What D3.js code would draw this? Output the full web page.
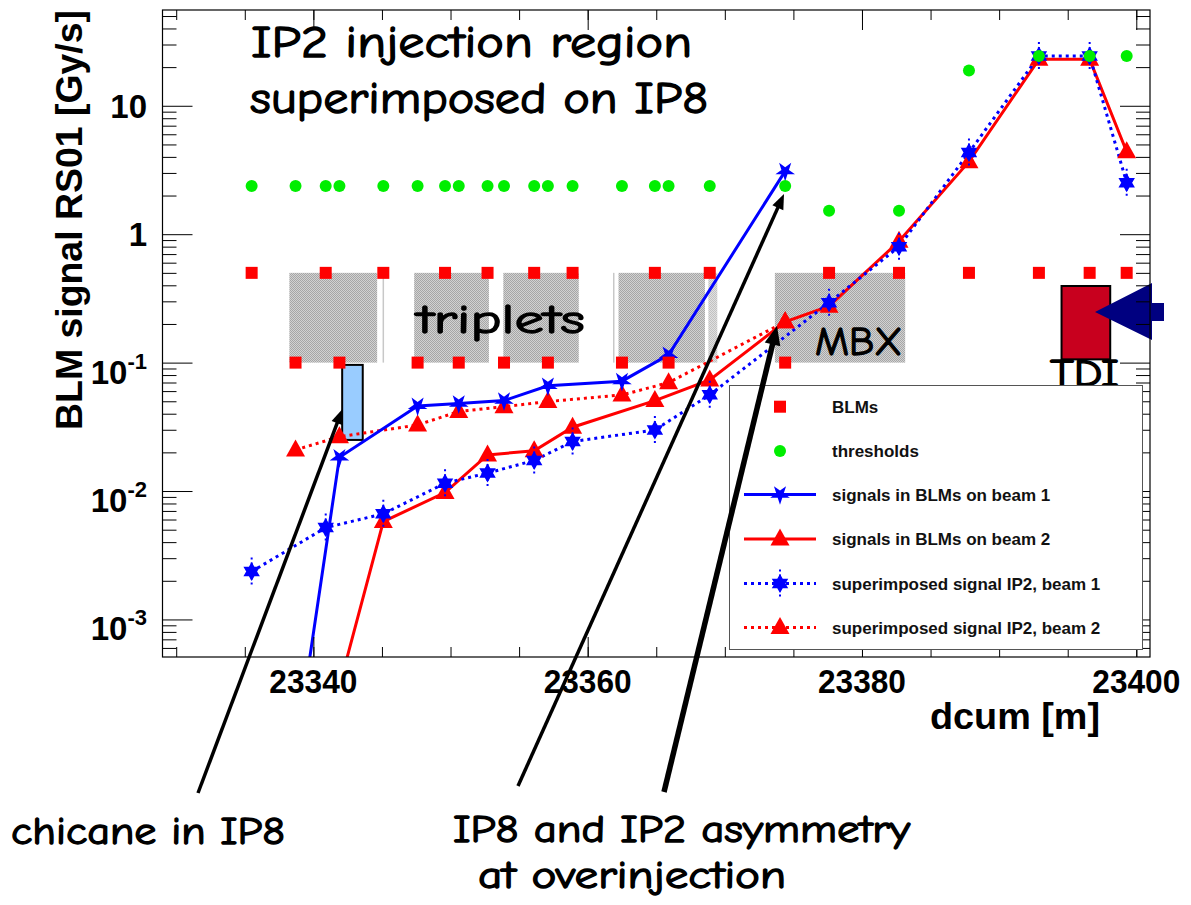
<!DOCTYPE html>
<html>
<head>
<meta charset="utf-8">
<script src="https://cdn.jsdelivr.net/npm/d3@7/dist/d3.min.js"></script>
<style>
  body { margin: 0; background: #ffffff; }
  svg { display: block; }
</style>
</head>
<body>
<svg id="chart" width="1191" height="905"></svg>
<script>
// ---- BLM positions along the ring (dcum, m) and the level at which each BLM is marked
const blmDcum = [23335.5, 23338.7, 23340.9, 23341.9, 23345.1, 23347.6, 23349.6, 23350.6,
                 23352.7, 23353.9, 23356.1, 23357.1, 23358.9, 23362.5, 23364.9, 23365.9,
                 23368.9, 23374.4, 23377.6, 23382.7, 23387.8, 23392.9, 23396.6, 23399.3];
const blmLevel = [0.5, 0.1, 0.5, 0.1, 0.5, 0.1, 0.5, 0.1,
                  0.5, 0.1, 0.5, 0.1, 0.5, 0.1, 0.5, 0.1,
                  0.5, 0.1, 0.5, 0.5, 0.5, 0.5, 0.5, 0.5];
// ---- dump thresholds per BLM (Gy/s)
const thresholdValue = [2.37, 2.37, 2.37, 2.37, 2.37, 2.37, 2.37, 2.37,
                        2.37, 2.37, 2.37, 2.37, 2.37, 2.37, 2.37, 2.37,
                        2.37, 2.37, 1.52, 1.52, 18.8, 24.4, 24.4, 24.4];

// ---- signals in BLMs on beam 1 (IP8)
const beam1Dcum  = [23338.7, 23341.9, 23347.6, 23350.6, 23353.9, 23357.1, 23362.5, 23365.9, 23374.4];
const beam1Value = [0.00009, 0.0183, 0.046, 0.048, 0.0506, 0.066, 0.0717, 0.115, 3.1];

// ---- signals in BLMs on beam 2 (IP8)
const beam2Dcum  = [23340.9, 23345.1, 23349.6, 23352.7, 23356.1, 23358.9, 23364.9, 23368.9,
                    23374.4, 23377.6, 23382.7, 23387.8, 23392.9, 23396.6, 23399.3];
const beam2Value = [0.00012, 0.00578, 0.00973, 0.0191, 0.0206, 0.0314, 0.0506, 0.0733,
                    0.208, 0.275, 0.88, 3.67, 23.0, 23.0, 4.39];

// ---- superimposed IP2 signal, beam 1
const ip2b1Dcum  = [23335.5, 23340.9, 23345.1, 23349.6, 23352.7, 23356.1, 23358.9, 23364.9,
                    23368.9, 23377.6, 23382.7, 23387.8, 23392.9, 23396.6, 23399.3];
const ip2b1Value = [0.00236, 0.00519, 0.00664, 0.0115, 0.0138, 0.0173, 0.0243, 0.0299,
                    0.0561, 0.293, 0.80, 4.32, 24.4, 24.4, 2.52];

// ---- superimposed IP2 signal, beam 2
const ip2b2Dcum  = [23338.7, 23341.9, 23347.6, 23350.6, 23353.9, 23357.1, 23362.5, 23365.9, 23374.4];
const ip2b2Value = [0.0209, 0.0265, 0.0327, 0.0416, 0.0454, 0.0497, 0.056, 0.0698, 0.208];

// ---- magnet elements (dcum start, dcum end), drawn between 0.1 and 0.5
const tripletStart = [23338.25, 23347.35, 23353.85, 23362.25, 23368.8];
const tripletEnd   = [23344.65, 23352.8, 23359.35, 23368.55, 23369.45];
const mbxRange = [23373.65, 23383.15];
const chicaneRange = [23342.1, 23343.6];
const chicaneLevels = [0.025, 0.096];
const tdiRange = [23394.55, 23398.1];
const tdiLevels = [0.106, 0.395];

// ---- axis ticks
const xMajorTicks = [23340, 23360, 23380, 23400];
const xMinorTicks = d3.range(23330, 23401, 5);
const yMajorTicks = [1e-3, 1e-2, 1e-1, 1, 10];
const yMajorLabels = [["10", "-3"], ["10", "-2"], ["10", "-1"], ["1", ""], ["10", ""]];

// ---- legend entries
const legendLabels = ["BLMs", "thresholds", "signals in BLMs on beam 1", "signals in BLMs on beam 2",
                      "superimposed signal IP2, beam 1", "superimposed signal IP2, beam 2"];

const svg = d3.select("#chart");
const frame = { left: 162.5, right: 1150, top: 10, bottom: 657 };

const x = d3.scaleLinear().domain([23329.0, 23401.0]).range([frame.left, frame.right]);
const y = d3.scaleLog().domain([5.1e-4, 55.7]).range([frame.bottom, frame.top]);

const BLUE = "#0000ff", RED = "#ff0000", GREEN = "#00ee00";
const comic = "'Comic Sans MS', 'Comic Neue', 'DejaVu Sans', sans-serif";
const helv = "'Liberation Sans', Arial, Helvetica, sans-serif";

svg.append("rect").attr("width", 1191).attr("height", 905).attr("fill", "#ffffff");

const defs = svg.append("defs");
// fine dithered grey used for the magnet blocks
const pat = defs.append("pattern").attr("id", "dither").attr("patternUnits", "userSpaceOnUse")
  .attr("width", 2).attr("height", 2);
pat.append("rect").attr("width", 2).attr("height", 2).attr("fill", "#d2d2d2");
pat.append("rect").attr("width", 1).attr("height", 1).attr("fill", "#a6a6a6");
pat.append("rect").attr("x", 1).attr("y", 1).attr("width", 1).attr("height", 1).attr("fill", "#a6a6a6");

defs.append("clipPath").attr("id", "plotClip").append("rect")
  .attr("x", frame.left).attr("y", frame.top)
  .attr("width", frame.right - frame.left).attr("height", frame.bottom - frame.top);

// hand-lettered style notes: slightly heavier strokes
function note(txt, px, py, size, len) {
  return svg.append("text").text(txt).attr("x", px).attr("y", py)
    .attr("font-family", comic).attr("font-size", size).attr("fill", "#000")
    .attr("stroke", "#000").attr("stroke-width", 1.3).attr("stroke-linejoin", "round")
    .attr("textLength", len).attr("lengthAdjust", "spacingAndGlyphs");
}

// ---- marker shapes
function hexagram(r) {
  const tri = a0 => d3.range(3).map(i => {
    const a = (a0 + i * 120) * Math.PI / 180;
    return [r * Math.cos(a), r * Math.sin(a)];
  });
  const p = t => "M" + t.map(q => q[0].toFixed(2) + "," + q[1].toFixed(2)).join("L") + "Z";
  return p(tri(-90)) + p(tri(90));
}
const trianglePath = "M0,-10.5L9.5,6.5L-9.5,6.5Z";
const downStarPath = d3.symbol().type(d3.symbolStar).size(120)();

function drawMarker(g, kind, cx, cy) {
  if (kind === "downStar") {
    g.append("path").attr("d", downStarPath)
      .attr("transform", `translate(${cx},${cy}) rotate(180)`).attr("fill", BLUE);
  } else if (kind === "hexagram") {
    g.append("line").attr("x1", cx).attr("x2", cx).attr("y1", cy - 14).attr("y2", cy + 15)
      .attr("stroke", BLUE).attr("stroke-width", 2).attr("stroke-dasharray", "2,3");
    g.append("path").attr("d", hexagram(9.5))
      .attr("transform", `translate(${cx},${cy})`).attr("fill", BLUE);
  } else if (kind === "triangle") {
    g.append("path").attr("d", trianglePath)
      .attr("transform", `translate(${cx},${cy})`).attr("fill", RED);
  } else if (kind === "square") {
    g.append("rect").attr("x", cx - 6).attr("y", cy - 6).attr("width", 12).attr("height", 12)
      .attr("fill", RED);
  } else if (kind === "circle") {
    g.append("circle").attr("cx", cx).attr("cy", cy).attr("r", 6).attr("fill", GREEN);
  }
}

// ---- magnet blocks
const blocks = svg.append("g");
tripletStart.forEach((s, i) => {
  blocks.append("rect")
    .attr("x", x(s)).attr("y", y(0.5))
    .attr("width", x(tripletEnd[i]) - x(s)).attr("height", y(0.1) - y(0.5))
    .attr("fill", "url(#dither)").attr("opacity", i === 4 ? 0.7 : 1);
});
blocks.append("rect")
  .attr("x", x(mbxRange[0])).attr("y", y(0.5))
  .attr("width", x(mbxRange[1]) - x(mbxRange[0])).attr("height", y(0.1) - y(0.5))
  .attr("fill", "url(#dither)");
[23345.1, 23361.9].forEach(d => {
  blocks.append("line").attr("x1", x(d)).attr("x2", x(d)).attr("y1", y(0.5)).attr("y2", y(0.1))
    .attr("stroke", "#c8c8c8").attr("stroke-width", 1.5);
});

// ---- block labels
note("triplets", 417, 333, 41, 168);
note("MBX", 815, 355, 41, 87);

// ---- chicane and TDI markers
svg.append("rect")
  .attr("x", x(chicaneRange[0])).attr("y", y(chicaneLevels[1]))
  .attr("width", x(chicaneRange[1]) - x(chicaneRange[0]))
  .attr("height", y(chicaneLevels[0]) - y(chicaneLevels[1]))
  .attr("fill", "#99ccff").attr("stroke", "#000").attr("stroke-width", 2);
svg.append("rect")
  .attr("x", x(tdiRange[0])).attr("y", y(tdiLevels[1]))
  .attr("width", x(tdiRange[1]) - x(tdiRange[0]))
  .attr("height", y(tdiLevels[0]) - y(tdiLevels[1]))
  .attr("fill", "#c8001e").attr("stroke", "#000").attr("stroke-width", 2);
note("TDI", 1050, 386, 38, 69);

// incoming beam arrow at the TDI
svg.append("path")
  .attr("d", "M1095,312 L1152,283 L1152,303 L1164,303 L1164,321 L1152,321 L1152,340 Z")
  .attr("fill", "#000080");

// ---- signal curves
const plot = svg.append("g").attr("clip-path", "url(#plotClip)");
const line = d3.line().x(d => x(d[0])).y(d => y(d[1]));
const zip = (a, b) => a.map((v, i) => [v, b[i]]);

const series = [
  { pts: zip(ip2b2Dcum, ip2b2Value), color: RED,  dash: "3,4", marker: "triangle" },
  { pts: zip(beam2Dcum, beam2Value), color: RED,  dash: null,  marker: "triangle" },
  { pts: zip(beam1Dcum, beam1Value), color: BLUE, dash: null,  marker: "downStar" },
  { pts: zip(ip2b1Dcum, ip2b1Value), color: BLUE, dash: "3,4", marker: "hexagram" }
];
series.forEach(s => {
  plot.append("path").attr("d", line(s.pts)).attr("fill", "none")
    .attr("stroke", s.color).attr("stroke-width", 3)
    .attr("stroke-dasharray", s.dash);
});
series.forEach(s => {
  s.pts.forEach(p => drawMarker(plot, s.marker, x(p[0]), y(p[1])));
});

// ---- BLM positions and thresholds
blmDcum.forEach((d, i) => drawMarker(plot, "square", x(d), y(blmLevel[i])));
blmDcum.forEach((d, i) => drawMarker(plot, "circle", x(d), y(thresholdValue[i])));

// ---- frame and axes
const axes = svg.append("g");
function styleAxis(g) {
  g.select(".domain").remove();
  g.selectAll(".tick line").attr("stroke", "#000").attr("stroke-width", 1);
  g.selectAll(".tick text").remove();
}
axes.append("g").attr("transform", `translate(0,${frame.bottom})`)
  .call(d3.axisBottom(x).tickValues(xMinorTicks).tickSize(-10)).call(styleAxis);
axes.append("g").attr("transform", `translate(0,${frame.bottom})`)
  .call(d3.axisBottom(x).tickValues(xMajorTicks).tickSize(-20)).call(styleAxis);
axes.append("g").attr("transform", `translate(0,${frame.top})`)
  .call(d3.axisTop(x).tickValues(xMinorTicks).tickSize(-10)).call(styleAxis);
axes.append("g").attr("transform", `translate(0,${frame.top})`)
  .call(d3.axisTop(x).tickValues(xMajorTicks).tickSize(-20)).call(styleAxis);

const yMinorTicks = [];
for (let e = -4; e <= 1; e++) {
  for (let k = 2; k <= 9; k++) {
    const v = k * Math.pow(10, e);
    if (v > y.domain()[0] && v < y.domain()[1]) yMinorTicks.push(v);
  }
}
axes.append("g").attr("transform", `translate(${frame.left},0)`)
  .call(d3.axisLeft(y).tickValues(yMinorTicks).tickSize(-14)).call(styleAxis);
axes.append("g").attr("transform", `translate(${frame.left},0)`)
  .call(d3.axisLeft(y).tickValues(yMajorTicks).tickSize(-30)).call(styleAxis);
axes.append("g").attr("transform", `translate(${frame.right},0)`)
  .call(d3.axisRight(y).tickValues(yMinorTicks).tickSize(-14)).call(styleAxis);
axes.append("g").attr("transform", `translate(${frame.right},0)`)
  .call(d3.axisRight(y).tickValues(yMajorTicks).tickSize(-30)).call(styleAxis);

axes.append("rect")
  .attr("x", frame.left).attr("y", frame.top)
  .attr("width", frame.right - frame.left).attr("height", frame.bottom - frame.top)
  .attr("fill", "none").attr("stroke", "#000").attr("stroke-width", 1.2);

// tick labels
xMajorTicks.forEach(v => {
  axes.append("text").text(String(v)).attr("x", x(v)).attr("y", 693)
    .attr("text-anchor", "middle").attr("font-family", helv).attr("font-weight", "bold")
    .attr("font-size", 33).attr("fill", "#000")
    .attr("textLength", 88).attr("lengthAdjust", "spacingAndGlyphs");
});
yMajorTicks.forEach((v, i) => {
  const [base, sup] = yMajorLabels[i];
  const t = axes.append("text").attr("text-anchor", "end")
    .attr("font-family", helv).attr("font-weight", "bold").attr("fill", "#000");
  if (sup) {
    t.attr("x", 147).attr("y", y(v) + 21);
    t.append("tspan").text(base).attr("font-size", 33);
    t.append("tspan").text(sup).attr("font-size", 22).attr("dy", -15);
  } else {
    t.attr("x", 147).attr("y", y(v) + 12).attr("font-size", 33).text(base);
  }
});

// axis titles
svg.append("text").text("BLM signal RS01 [Gy/s]")
  .attr("transform", "translate(82,220) rotate(-90)")
  .attr("text-anchor", "middle").attr("font-family", helv).attr("font-weight", "bold")
  .attr("font-size", 37).attr("fill", "#000")
  .attr("textLength", 420).attr("lengthAdjust", "spacingAndGlyphs");
svg.append("text").text("dcum [m]").attr("x", 1100).attr("y", 729)
  .attr("text-anchor", "end").attr("font-family", helv).attr("font-weight", "bold")
  .attr("font-size", 37).attr("fill", "#000")
  .attr("textLength", 170).attr("lengthAdjust", "spacingAndGlyphs");

// ---- title
note("IP2 injection region", 251, 57, 44, 441);
note("superimposed on IP8", 250, 113, 44, 458);

// ---- legend
const lg = svg.append("g");
lg.append("rect").attr("x", 729.5).attr("y", 385.5).attr("width", 413).attr("height", 264)
  .attr("fill", "#ffffff").attr("stroke", "#555").attr("stroke-width", 1);
const rowY = [406.7, 451, 494.5, 539, 583.5, 627.5];
const legendStyle = [
  { marker: "square" }, { marker: "circle" },
  { marker: "downStar", color: BLUE, dash: null },
  { marker: "triangle", color: RED, dash: null },
  { marker: "hexagram", color: BLUE, dash: "3,4" },
  { marker: "triangle", color: RED, dash: "3,4" }
];
legendLabels.forEach((lab, i) => {
  const st = legendStyle[i];
  if (st.color) {
    lg.append("line").attr("x1", 744).attr("x2", 816).attr("y1", rowY[i]).attr("y2", rowY[i])
      .attr("stroke", st.color).attr("stroke-width", 3).attr("stroke-dasharray", st.dash);
  }
  drawMarker(lg, st.marker, 780, rowY[i]);
  lg.append("text").text(lab).attr("x", 832).attr("y", rowY[i] + 6)
    .attr("font-family", helv).attr("font-weight", "bold").attr("font-size", 17)
    .attr("fill", "#111");
});

// ---- callout arrows and notes
function arrow(x1, y1, x2, y2, w, headLen, headW) {
  const dx = x2 - x1, dy = y2 - y1, L = Math.hypot(dx, dy);
  const ux = dx / L, uy = dy / L;
  const bx = x2 - ux * headLen, by = y2 - uy * headLen;
  svg.append("line").attr("x1", x1).attr("y1", y1).attr("x2", bx + ux * 2).attr("y2", by + uy * 2)
    .attr("stroke", "#000").attr("stroke-width", w);
  svg.append("path")
    .attr("d", `M${x2},${y2} L${bx - uy * headW / 2},${by + ux * headW / 2} L${bx + uy * headW / 2},${by - ux * headW / 2} Z`)
    .attr("fill", "#000");
}
arrow(198, 793, 342.5, 409, 3.5, 15, 12);
arrow(518, 786, 784, 194, 3.5, 15, 12);
arrow(664, 792, 777, 326, 5.5, 19, 16);

note("chicane in IP8", 11, 844, 39, 274);
note("IP8 and IP2 asymmetry", 453, 842, 39, 457);
note("at overinjection", 478, 888, 39, 308);
</script>
</body>
</html>
